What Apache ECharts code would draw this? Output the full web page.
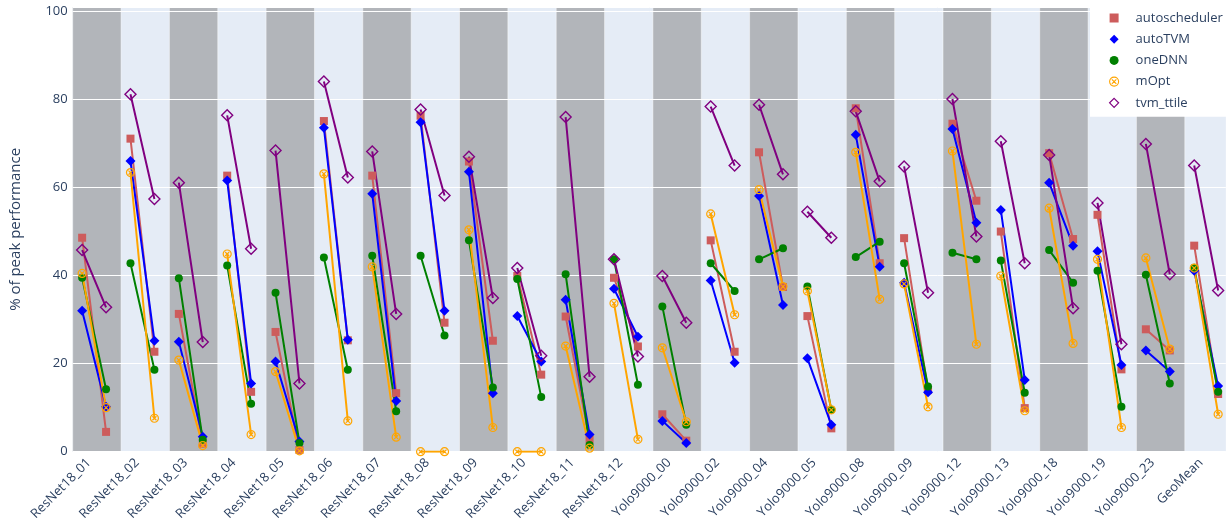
<!DOCTYPE html>
<html><head><meta charset="utf-8">
<script src="https://cdn.jsdelivr.net/npm/echarts@6/dist/echarts.min.js"></script>
<style>html,body{margin:0;padding:0;background:#fff}#c{width:1228px;height:529px}</style>
</head><body><div id="c"></div>
<script>
const categories = ['ResNet18_01','ResNet18_02','ResNet18_03','ResNet18_04','ResNet18_05','ResNet18_06',
  'ResNet18_07','ResNet18_08','ResNet18_09','ResNet18_10','ResNet18_11','ResNet18_12',
  'Yolo9000_00','Yolo9000_02','Yolo9000_04','Yolo9000_05','Yolo9000_08','Yolo9000_09',
  'Yolo9000_12','Yolo9000_13','Yolo9000_18','Yolo9000_19','Yolo9000_23','GeoMean'];

// [first point, second point] per category
const autoscheduler = [[48.6,4.5],[71.1,22.7],[31.3,1.8],[62.7,13.6],[27.2,0.4],[75.1,25.3],
  [62.7,13.3],[76.3,29.3],[65.9,25.2],[39.9,17.5],[30.7,2.8],[39.5,23.9],
  [8.5,2.5],[48.0,22.7],[68.0,37.4],[30.8,5.3],[78.0,42.8],[48.5,14.0],
  [74.5,57.0],[50.0,9.9],[67.8,48.3],[53.8,18.7],[27.8,23.0],[46.8,13.1]];
const autoTVM = [[32.0,10.2],[66.0,25.2],[25.0,3.4],[61.6,15.5],[20.5,2.3],[73.6,25.4],
  [58.6,11.5],[74.8,32.0],[63.6,13.3],[30.8,20.5],[34.5,3.9],[37.0,26.1],
  [7.0,2.0],[38.9,20.2],[58.1,33.3],[21.2,6.1],[72.0,42.0],[38.4,13.5],
  [73.3,52.0],[54.9,16.3],[61.1,46.8],[45.5,19.7],[23.0,18.2],[41.1,14.9]];
const oneDNN = [[39.5,14.2],[42.8,18.6],[39.4,2.7],[42.3,10.9],[36.1,2.0],[44.1,18.6],
  [44.5,9.2],[44.5,26.4],[48.0,14.6],[39.2,12.4],[40.3,1.5],[43.7,15.2],
  [33.0,6.1],[42.8,36.5],[43.7,46.2],[37.5,9.5],[44.2,47.7],[42.8,14.8],
  [45.2,43.7],[43.4,13.4],[45.8,38.4],[41.1,10.2],[40.2,15.5],[41.8,13.6]];
const mOpt = [[40.5,10.0],[63.4,7.6],[20.8,1.4],[44.9,3.9],[18.2,0.2],[63.1,7.0],
  [42.0,3.3],[0,0],[50.4,5.5],[0,0],[24.0,0.8],[33.7,2.8],
  [23.6,6.8],[54.0,31.1],[59.5,37.5],[36.5,9.5],[68.0,34.6],[38.1,10.2],
  [68.3,24.4],[39.9,9.3],[55.3,24.6],[43.7,5.5],[44.0,23.3],[41.7,8.5]];
const tvm_ttile = [[45.8,32.8],[81.2,57.4],[61.1,24.9],[76.4,46.1],[68.4,15.5],[84.1,62.3],
  [68.2,31.3],[77.7,58.2],[67.0,34.9],[41.7,21.8],[76.0,17.0],[43.7,21.6],
  [39.9,29.3],[78.4,65.0],[78.8,63.0],[54.5,48.6],[77.3,61.4],[64.8,36.1],
  [80.1,48.9],[70.5,42.8],[67.4,32.6],[56.5,24.4],[69.9,40.3],[65.0,36.6]];
const yTicks = [0,20,40,60,80,100];

const FONT = '"Open Sans", sans-serif';
const TXT = '#2a3f5f';
const P1 = 0.195, P2 = 0.69;   // point offsets within a band
const SUB = 6;                 // label-axis subdivisions per band
const XMAX = 23.85;
const CIRCLE_X = 'path://M0,-10A10,10,0,1,1,0,10A10,10,0,1,1,0,-10ZM-5,-5L5,5M5,-5L-5,5';

function pairs(arr){
  const out = [];
  arr.forEach((p,i)=>{ out.push([i+P1,p[0]]); out.push([i+P2,p[1]]); out.push([i+0.95,'-']); });
  return out;
}
const bands = [];
for (let i=0;i<categories.length;i+=2) bands.push([{xAxis:i},{xAxis:i+1}]);

function mk(name, arr, color, symbol, size, open, bw){
  return {
    name, type:'line', xAxisIndex:0, yAxisIndex:0, z:5,
    data: pairs(arr), connectNulls:false,
    symbol, symbolSize:size, showAllSymbol:true,
    lineStyle:{color, width:2},
    itemStyle: open ? {color:'rgba(0,0,0,0)', borderColor:color, borderWidth:bw} : {color},
    emphasis:{disabled:true}
  };
}

const chart = echarts.init(document.getElementById('c'));
chart.setOption({
  animation:false,
  backgroundColor:'#fff',
  grid:{left:72.7, right:0, top:7, bottom:77.3, show:true, backgroundColor:'#E5ECF6', borderWidth:0},
  xAxis:[
    {type:'value', min:0, max:XMAX, show:false},
    {type:'value', min:0, max:XMAX*SUB, interval:1, position:'bottom',
     axisLine:{show:false}, axisTick:{show:false}, splitLine:{show:false},
     axisLabel:{rotate:45, margin:9, fontSize:13, fontFamily:FONT, color:TXT,
       formatter:v => ((v-2)%SUB===0 && categories[(v-2)/SUB]) ? categories[(v-2)/SUB] : ''}}
  ],
  yAxis:{type:'value', min:0, max:101, interval:20, z:3,
    name:'% of peak performance', nameLocation:'middle', nameGap:49,
    nameTextStyle:{fontSize:15, fontFamily:FONT, color:TXT},
    axisLine:{show:false}, axisTick:{show:false},
    axisLabel:{margin:5, fontSize:13, fontFamily:FONT, color:TXT,
      formatter:v => yTicks.includes(v) ? String(v) : ''},
    splitLine:{lineStyle:{color:'#ffffff', width:1}}},
  legend:{left:1090, top:0, orient:'vertical', backgroundColor:'#ffffff',
    padding:[11,10,7,19], itemWidth:9, itemHeight:9, itemGap:7.2,
    textStyle:{fontFamily:FONT, fontSize:13, color:TXT, lineHeight:14, padding:[0,0,0,12]},
    data:[
      {name:'autoscheduler', icon:'rect'},
      {name:'autoTVM', icon:'diamond'},
      {name:'oneDNN', icon:'circle'},
      {name:'mOpt', icon:CIRCLE_X, itemStyle:{color:'rgba(0,0,0,0)', borderColor:'#FFA500', borderWidth:1.1}},
      {name:'tvm_ttile', icon:'diamond', itemStyle:{color:'rgba(0,0,0,0)', borderColor:'#800080', borderWidth:1.2}}
    ]},
  series:[
    {name:'bands', type:'line', xAxisIndex:0, data:[], z:1, silent:true,
     markArea:{silent:true, z:1, itemStyle:{color:'#b2b5ba', borderColor:'rgba(255,255,255,0.45)', borderWidth:1}, data:bands}},
    mk('autoscheduler', autoscheduler, '#CD5C5C', 'rect', 8, false),
    mk('autoTVM', autoTVM, '#0000FF', 'diamond', 10, false),
    mk('oneDNN', oneDNN, '#008000', 'circle', 8, false),
    mk('mOpt', mOpt, '#FFA500', CIRCLE_X, 8, true, 1.2),
    mk('tvm_ttile', tvm_ttile, '#800080', 'diamond', 11, true, 1.4)
  ]
});
</script></body></html>
